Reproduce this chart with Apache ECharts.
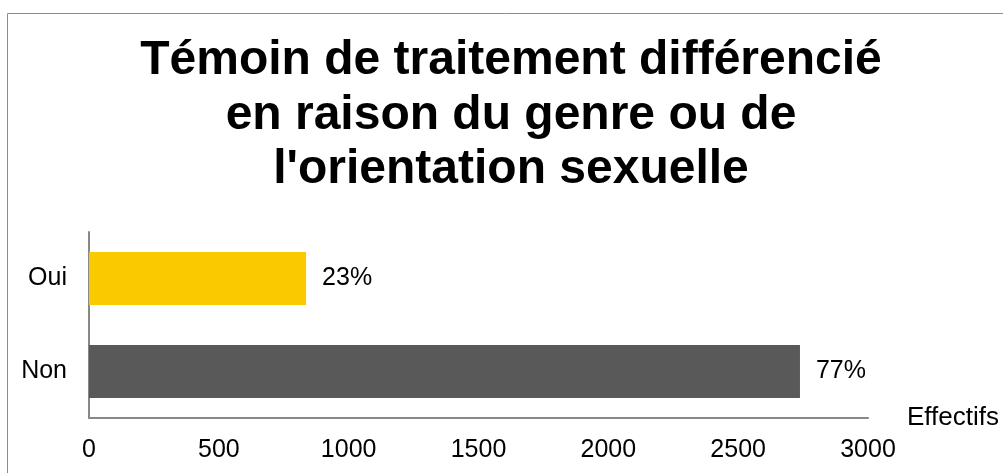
<!DOCTYPE html>
<html>
<head>
<meta charset="utf-8">
<script src="https://cdn.jsdelivr.net/npm/echarts@6/dist/echarts.min.js"></script>
<style>html,body{margin:0;padding:0;background:#fff}#c{width:1003px;height:473px}</style>
</head>
<body>
<div id="c"></div>
<script>
const categories = ['Non', 'Oui'];
const values = [2738, 836];
const percentLabels = ['77%', '23%'];
const colors = ['#595959', '#FACA00'];
const xTicks = [0, 500, 1000, 1500, 2000, 2500, 3000];
const titleText = 'Témoin de traitement différencié\nen raison du genre ou de\nl\'orientation sexuelle';

const chart = echarts.init(document.getElementById('c'), null, {renderer: 'canvas'});
const font = '"Liberation Sans", Arial, sans-serif';
chart.setOption({
  animation: false,
  backgroundColor: '#fff',
  textStyle: {fontFamily: font},
  graphic: [{
    type: 'rect', z: -1, silent: true,
    shape: {x: 7.5, y: 13.5, width: 1100, height: 600},
    style: {fill: 'none', stroke: '#8c8c8c', lineWidth: 1}
  }, {
    type: 'text', silent: true,
    x: 511, y: 34,
    style: {
      text: titleText, fill: '#000',
      font: 'bold 48px "Liberation Sans", Arial, sans-serif',
      fontFamily: font, fontSize: 48, fontWeight: 'bold',
      lineHeight: 54.5, align: 'center', verticalAlign: 'top'
    }
  }],
  grid: {left: 89, right: 135, top: 232, bottom: 55, containLabel: false},
  xAxis: {
    type: 'value', min: 0, max: 3000, interval: 500,
    name: 'Effectifs', nameLocation: 'end', nameGap: 39,
    nameTextStyle: {fontFamily: font, fontSize: 26, color: '#000', padding: [0, 0, 24, 0]},
    axisLine: {show: true, lineStyle: {color: '#888', width: 2}},
    axisTick: {show: false},
    splitLine: {show: false},
    axisLabel: {fontFamily: font, fontSize: 25, color: '#000', margin: 20,
      customValues: xTicks, formatter: v => String(v)}
  },
  yAxis: {
    type: 'category', data: categories,
    axisLine: {show: true, lineStyle: {color: '#888', width: 2}},
    axisTick: {show: false},
    axisLabel: {fontFamily: font, fontSize: 25, color: '#000', margin: 22}
  },
  series: [{
    type: 'bar',
    barWidth: '57%',
    data: values.map((v, i) => ({value: v, itemStyle: {color: colors[i]}})),
    label: {
      show: true, position: 'right', distance: 16,
      fontFamily: font, fontSize: 25, color: '#000',
      formatter: p => percentLabels[p.dataIndex]
    }
  }]
});
</script>
</body>
</html>
